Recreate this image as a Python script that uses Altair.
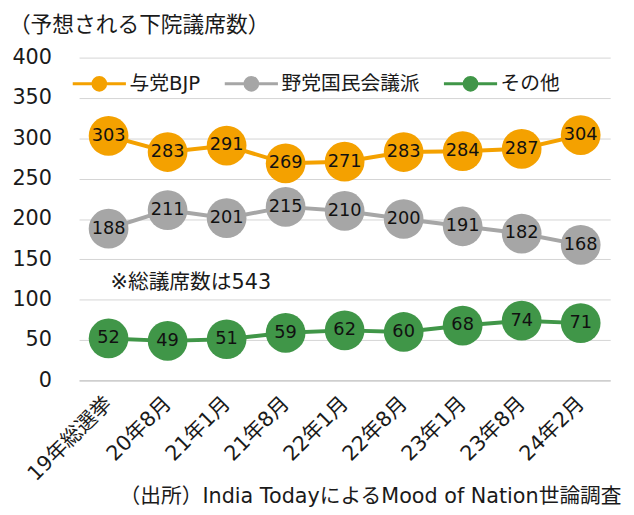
import altair as alt
import pandas as pd

categories = ["19年総選挙", "20年8月", "21年1月", "21年8月", "22年1月", "22年8月", "23年1月", "23年8月", "24年2月"]
series_names = ["与党BJP", "野党国民会議派", "その他"]
bjp = [303, 283, 291, 269, 271, 283, 284, 287, 304]
inc = [188, 211, 201, 215, 210, 200, 191, 182, 168]
others = [52, 49, 51, 59, 62, 60, 68, 74, 71]
colors = ["#F4A100", "#A6A6A6", "#409648"]

rows = []
for name, vals in zip(series_names, [bjp, inc, others]):
    for c, v in zip(categories, vals):
        rows.append({"cat": c, "series": name, "value": v})
df = pd.DataFrame(rows)

FONT = "DejaVu Sans, Noto Sans CJK JP"
TXT = "#1a1a1a"

x_enc = alt.X(
    "cat:N", sort=categories, scale=alt.Scale(paddingInner=0, paddingOuter=0.5),
    axis=alt.Axis(
        title="（出所）India TodayによるMood of Nation世論調査",
        titleFont=FONT, titleFontSize=21, titleFontWeight="normal", titleColor=TXT,
        titleAlign="right", titleAnchor="end", titleX=549, titleY=107,
        labelAngle=-45, labelAlign="right", labelBaseline="middle",
        labelFont=FONT, labelFontSize=21, labelColor=TXT, labelPadding=20,
        domainColor="#BFBFBF", domainWidth=1, ticks=False, grid=False,
    ),
)
y_enc = alt.Y(
    "value:Q", scale=alt.Scale(domain=[0, 400], nice=False),
    axis=alt.Axis(
        title=None, values=list(range(0, 401, 50)), grid=True, gridColor="#D4D4D4",
        domain=False, ticks=False, labelFont=FONT, labelFontSize=21,
        labelColor=TXT, labelPadding=28,
    ),
)
color_enc = alt.Color(
    "series:N", sort=series_names,
    scale=alt.Scale(domain=series_names, range=colors),
    legend=alt.Legend(
        title=None, orient="none", direction="horizontal", legendX=-8, legendY=-2,
        symbolType="M-1,0L1,0M-0.24,0A0.24,0.24 0 1,1 0.24,0A0.24,0.24 0 1,1 -0.24,0Z",
        symbolSize=2900, symbolStrokeWidth=3, symbolOpacity=1,
        labelFont=FONT, labelFontSize=20, labelColor=TXT,
        columnPadding=18, labelOffset=2,
    ),
)

base = alt.Chart(df).encode(x=x_enc, y=y_enc, color=color_enc)
lines = base.mark_line(strokeWidth=4)
points = base.mark_circle(size=1620, opacity=1)
labels = alt.Chart(df).mark_text(font=FONT, fontSize=18, color="#111111").encode(
    x=alt.X("cat:N", sort=categories), y="value:Q", text="value:Q"
)
note = alt.Chart(pd.DataFrame({"cat": [categories[0]], "value": [121], "t": ["※総議席数は543"]})).mark_text(
    font=FONT, fontSize=21, color=TXT, align="left", dx=2
).encode(x=alt.X("cat:N", sort=categories), y="value:Q", text="t:N")

chart = alt.layer(lines, points, labels, note).properties(
    width=538, height=327,
    autosize=alt.AutoSizeParams(type="none"),
    title=alt.TitleParams("（予想される下院議席数）", anchor="start", frame="bounds",
                          font=FONT, fontSize=22, fontWeight="normal", color=TXT, offset=10, dx=-3),
    padding={"left": 72, "top": 47, "right": 16, "bottom": 125},
).configure_view(stroke=None)

chart.save("out.html", embed_options={"renderer": "svg", "actions": False})
